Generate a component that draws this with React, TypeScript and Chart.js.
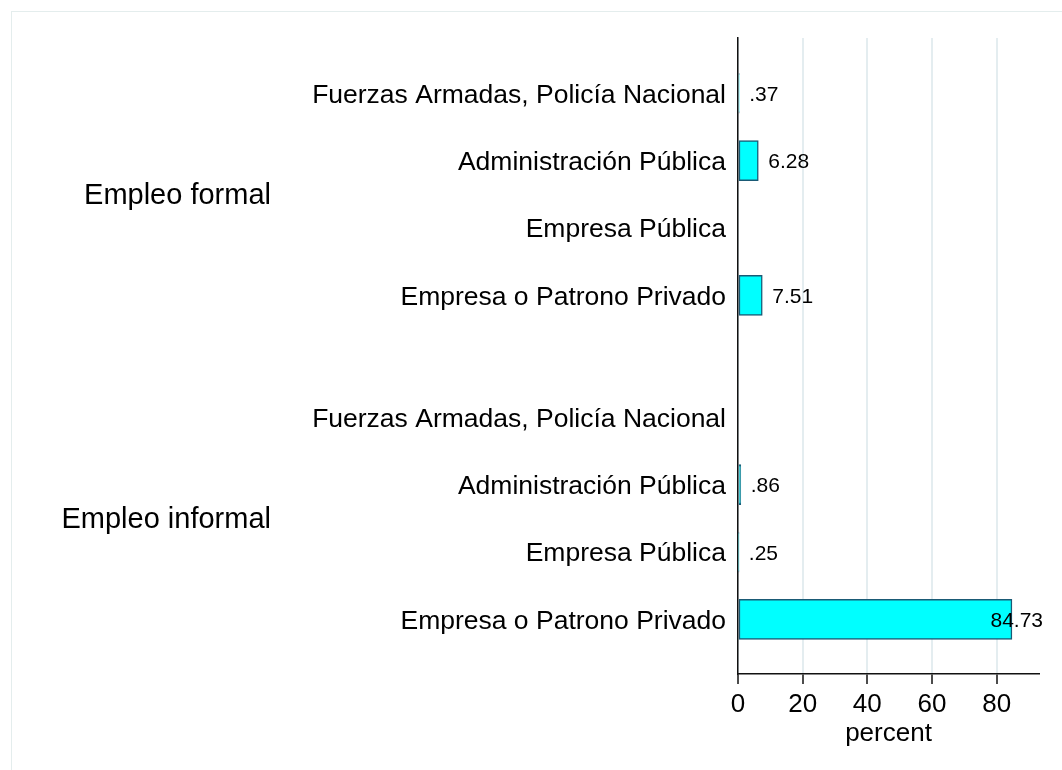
import React, { useEffect, useRef } from "react";
import { Chart, registerables } from "chart.js";

Chart.register(...registerables);

const groupLabels = ["Empleo formal", "Empleo informal"];
const categoryLabels = [
  "Fuerzas Armadas, Policía Nacional",
  "Administración Pública",
  "Empresa Pública",
  "Empresa o Patrono Privado",
];
const formalPercent: (number | null)[] = [0.37, 6.28, null, 7.51];
const informalPercent: (number | null)[] = [null, 0.86, 0.25, 84.73];
const xTickValues = [0, 20, 40, 60, 80];
const xAxisTitle = "percent";

const seriesByGroup = [formalPercent, informalPercent];
const GROUP_GAP = 0.81;
const FONT = "'Liberation Sans', Arial, Helvetica, sans-serif";
const TEXT_SHIFT = 2;

const rowPos = (g: number, i: number) => g * (categoryLabels.length + GROUP_GAP) + i;
const rows = seriesByGroup.flatMap((vals, g) =>
  vals.map((v, i) => ({ x: v, y: rowPos(g, i), label: categoryLabels[i] }))
);
const lastPos = rowPos(seriesByGroup.length - 1, categoryLabels.length - 1);

const fmt = (v: number) => v.toFixed(2).replace(/^0(?=\.)/, "");

export default function App() {
  const ref = useRef<HTMLCanvasElement | null>(null);

  useEffect(() => {
    if (!ref.current) return;

    const framePlugin = {
      id: "frame",
      beforeDraw(chart: any) {
        const { ctx, width, height } = chart;
        ctx.save();
        ctx.fillStyle = "#ffffff";
        ctx.fillRect(0, 0, width, height);
        ctx.strokeStyle = "#e4eded";
        ctx.lineWidth = 1;
        ctx.strokeRect(11.5, 11.5, width + 20, height + 20);
        ctx.restore();
      },
    };

    const labelsPlugin = {
      id: "valueLabels",
      afterDatasetsDraw(chart: any) {
        const { ctx, chartArea } = chart;
        const meta = chart.getDatasetMeta(0);
        ctx.save();
        ctx.font = `21px ${FONT}`;
        ctx.fillStyle = "#000";
        ctx.textBaseline = "middle";
        ctx.textAlign = "left";
        meta.data.forEach((bar: any, idx: number) => {
          const v = rows[idx].x;
          if (v === null || v === undefined) return;
          const txt = fmt(v);
          const w = ctx.measureText(txt).width;
          let x = bar.x + 10;
          const limit = chartArea.right + 4;
          if (x + w > limit) x = limit - w;
          ctx.fillText(txt, x, bar.y + TEXT_SHIFT);
        });
        const yScale = chart.scales.y;
        ctx.font = `29px ${FONT}`;
        ctx.textAlign = "right";
        groupLabels.forEach((gl, g) => {
          const mid = rowPos(g, (categoryLabels.length - 1) / 2);
          ctx.fillText(gl, 271, yScale.getPixelForValue(mid) + TEXT_SHIFT);
        });
        ctx.restore();
      },
    };

    const chart = new Chart(ref.current, {
      type: "bar",
      data: {
        datasets: [
          {
            data: rows.map((r) => ({ x: r.x as any, y: r.y })),
            backgroundColor: "#00ffff",
            borderColor: "#1a5a75",
            borderWidth: 1.5,
            borderSkipped: false,
            barThickness: 40,
          } as any,
        ],
      },
      options: {
        indexAxis: "y",
        animation: false,
        responsive: true,
        maintainAspectRatio: false,
        layout: { padding: { top: 38, right: 23, bottom: 0, left: 0 } },
        plugins: {
          legend: { display: false },
          tooltip: { enabled: false },
          title: { display: false },
        },
        scales: {
          x: {
            type: "linear",
            position: "bottom",
            min: 0,
            max: 93.1,
            afterBuildTicks: (scale: any) => {
              scale.ticks = xTickValues.map((v) => ({ value: v }));
            },
            afterFit: (scale: any) => {
              scale.height = 96;
            },
            grid: {
              display: true,
              drawOnChartArea: true,
              drawTicks: true,
              color: "#e4edf0",
              lineWidth: 2,
              tickColor: "#111",
              tickWidth: 1.5,
              tickLength: 10,
            },
            border: { display: true, color: "#111", width: 1.5 },
            ticks: {
              color: "#000",
              font: { family: FONT, size: 26 },
              padding: 5,
              autoSkip: false,
              maxRotation: 0,
              callback: (v: any) => String(v),
            },
            title: {
              display: true,
              text: xAxisTitle,
              color: "#000",
              font: { family: FONT, size: 26 },
              padding: { top: 0, bottom: 21 },
            },
          },
          y: {
            type: "linear",
            reverse: true,
            offset: false,
            min: -0.82,
            max: lastPos + 0.81,
            afterBuildTicks: (scale: any) => {
              scale.ticks = rows.map((r) => ({ value: r.y }));
            },
            afterFit: (scale: any) => {
              scale.width = 738;
            },
            grid: { display: false, drawTicks: false },
            border: { display: true, color: "#111", width: 1.5 },
            ticks: {
              color: "#000",
              font: { family: FONT, size: 26.5 },
              padding: 12,
              labelOffset: TEXT_SHIFT,
              autoSkip: false,
              callback: (_v: any, i: number) => (rows[i] ? rows[i].label : ""),
            },
          },
        },
      },
      plugins: [framePlugin, labelsPlugin],
    } as any);

    return () => chart.destroy();
  }, []);

  return (
    <div style={{ position: "fixed", left: 0, top: 0, width: 1062, height: 770, background: "#fff" }}>
      <canvas ref={ref} />
    </div>
  );
}
